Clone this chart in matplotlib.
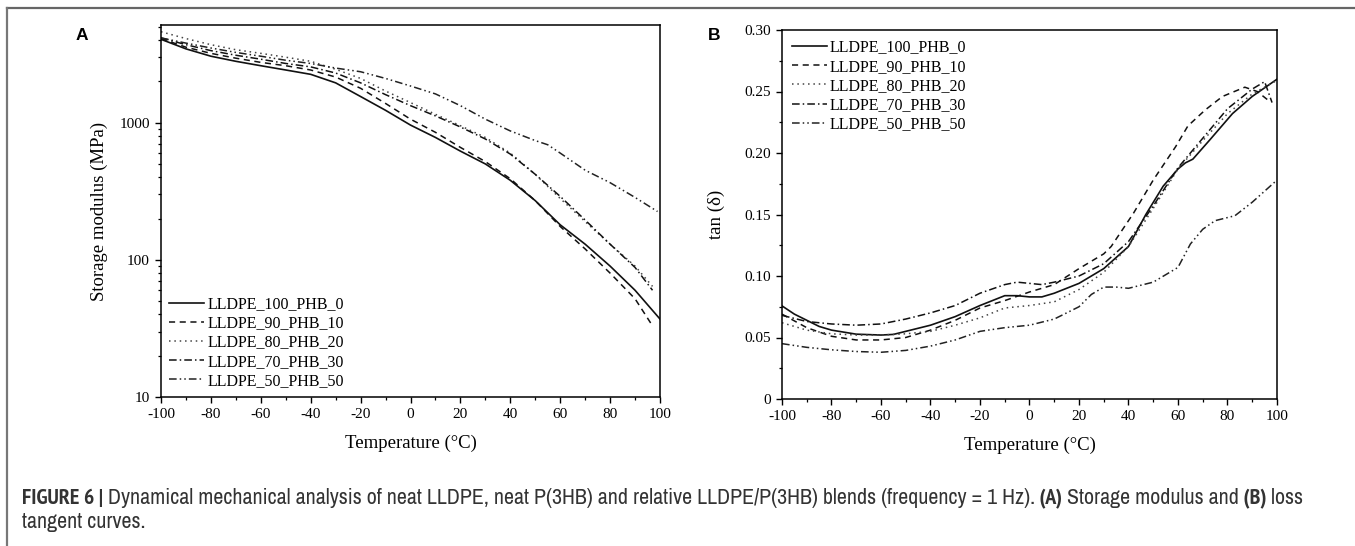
from matplotlib import pyplot as plt
from matplotlib import ticker, font_manager
from matplotlib.font_manager import FontProperties
from matplotlib.lines import Line2D

# ---- data ----
temp_a = [-100, -90, -80, -70, -60, -50, -40, -30, -20, -10, 0, 10, 20, 30, 40, 50, 60, 70, 80, 90, 100]
mod_100_0 = [4050, 3450, 3050, 2800, 2600, 2420, 2250, 1950, 1550, 1230, 960, 780, 620, 500, 380, 270, 180, 130, 90, 60, 37]
temp_a2 = [-100, -90, -80, -70, -60, -50, -40, -30, -20, -10, 0, 10, 20, 30, 40, 50, 60, 70, 80, 90, 97]
mod_90_10 = [4100, 3550, 3200, 2950, 2750, 2600, 2420, 2150, 1780, 1380, 1060, 850, 660, 520, 390, 270, 175, 120, 80, 52, 33]
mod_80_20 = [4600, 4100, 3700, 3400, 3200, 3000, 2800, 2450, 2100, 1700, 1400, 1150, 950, 780, 600, 420, 280, 190, 130, 90, 64]
mod_70_30 = [4150, 3700, 3350, 3100, 2900, 2700, 2550, 2300, 1950, 1600, 1330, 1120, 930, 760, 590, 420, 290, 195, 130, 88, 60]
temp_a3 = [-100, -90, -80, -70, -60, -50, -40, -30, -20, -10, 0, 10, 20, 30, 40, 50, 55, 60, 70, 80, 90, 99]
mod_50_50 = [4150, 3800, 3500, 3250, 3050, 2850, 2700, 2500, 2350, 2100, 1850, 1620, 1330, 1060, 870, 740, 690, 600, 450, 365, 285, 225]

temp_b1 = [-100, -95, -90, -85, -80, -70, -60, -55, -50, -40, -30, -20, -10, -5, 0, 5, 10, 20, 30, 40, 47, 54, 60, 63, 66, 73, 82, 90, 100]
tan_100_0 = [0.0757, 0.069, 0.064, 0.059, 0.056, 0.0527, 0.052, 0.0525, 0.055, 0.060, 0.067, 0.076, 0.084, 0.084, 0.083, 0.083,
             0.086, 0.094, 0.106, 0.124, 0.150, 0.173, 0.187, 0.192, 0.195, 0.211, 0.232, 0.246, 0.260]
temp_b2 = [-100, -90, -80, -70, -60, -50, -40, -30, -20, -10, 0, 10, 20, 30, 33, 42, 50, 59, 64, 71, 78, 87, 92, 97]
tan_90_10 = [0.069, 0.058, 0.051, 0.048, 0.048, 0.050, 0.056, 0.064, 0.074, 0.080, 0.087, 0.093, 0.106, 0.118, 0.124, 0.151,
             0.178, 0.205, 0.222, 0.235, 0.246, 0.2535, 0.250, 0.242]
temp_b3 = [-100, -90, -80, -70, -60, -50, -40, -30, -20, -10, 0, 10, 20, 30, 40, 50, 60, 70, 80, 90, 100]
tan_80_20 = [0.062, 0.056, 0.053, 0.052, 0.052, 0.053, 0.055, 0.060, 0.066, 0.074, 0.076, 0.079, 0.089, 0.103, 0.124, 0.155,
             0.187, 0.210, 0.232, 0.248, 0.259]
temp_b4 = [-100, -90, -80, -70, -60, -50, -40, -30, -20, -10, -5, 0, 5, 10, 20, 30, 40, 50, 60, 70, 80, 90, 95, 98]
tan_70_30 = [0.068, 0.063, 0.061, 0.060, 0.061, 0.065, 0.070, 0.076, 0.086, 0.093, 0.095, 0.094, 0.093, 0.095, 0.100, 0.110,
             0.128, 0.157, 0.188, 0.212, 0.236, 0.252, 0.258, 0.241]
temp_b5 = [-100, -90, -80, -70, -60, -50, -40, -30, -20, -10, 0, 10, 20, 25, 30, 35, 40, 50, 60, 65, 70, 75, 83, 90, 100]
tan_50_50 = [0.045, 0.042, 0.040, 0.0386, 0.038, 0.0395, 0.043, 0.048, 0.055, 0.058, 0.060, 0.065, 0.075, 0.085, 0.091, 0.091,
             0.090, 0.095, 0.107, 0.126, 0.138, 0.145, 0.149, 0.160, 0.178]

labels = ['LLDPE_100_PHB_0', 'LLDPE_90_PHB_10', 'LLDPE_80_PHB_20', 'LLDPE_70_PHB_30', 'LLDPE_50_PHB_50']
tan_ticks = [0, 0.05, 0.10, 0.15, 0.20, 0.25, 0.30]
tan_ticklabels = ['0', '0.05', '0.10', '0.15', '0.20', '0.25', '0.30']
# caption pieces: (text, bold)
caption_line1 = [
    ('FIGURE 6 |', True),
    (' Dynamical mechanical analysis of neat LLDPE, neat P(3HB) and relative LLDPE/P(3HB) blends (frequency = 1 Hz).', False),
    (' (A)', True),
    (' Storage modulus and', False),
    (' (B)', True),
    (' loss', False),
]
caption_line2 = 'tangent curves.'

# ---- styles ----
styles = [
    dict(color='#111111', lw=1.2, ls='-'),
    dict(color='#111111', lw=1.1, ls=(0, (4, 3))),
    dict(color='#444444', lw=1.1, ls=(0, (1, 2.5))),
    dict(color='#111111', lw=1.1, ls=(0, (5, 2, 1, 2))),
    dict(color='#222222', lw=1.1, ls=(0, (5, 2, 1, 2, 1, 2))),
]

plt.rcParams['font.family'] = ['Liberation Serif', 'DejaVu Serif']

W, H = 1355, 546
fig = plt.figure(figsize=(W / 100, H / 100), dpi=100)


def axes_px(left, top, right, bottom):
    return fig.add_axes([left / W, 1 - bottom / H, (right - left) / W, (bottom - top) / H])


def style_axes(ax):
    for s in ax.spines.values():
        s.set_linewidth(1.1)
    ax.tick_params(which='major', direction='out', length=4.5, width=1.0, labelsize=11, top=False, right=False)
    ax.tick_params(which='minor', direction='out', length=2.5, width=0.9, top=False, right=False)
    ax.set_xlim(-100, 100)
    ax.xaxis.set_major_locator(ticker.MultipleLocator(20))
    ax.xaxis.set_minor_locator(ticker.MultipleLocator(10))
    ax.xaxis.set_major_formatter(ticker.FuncFormatter(lambda v, p: f'{v:g}'))
    ax.set_xlabel('Temperature (°C)', fontsize=13.5, labelpad=10)


leg_kw = dict(frameon=False, fontsize=11.5, handlelength=2.2, handletextpad=0.2, labelspacing=0.2)

# ---- panel A ----
ax1 = axes_px(161, 25, 660, 397)
series_a = [(temp_a, mod_100_0), (temp_a2, mod_90_10), (temp_a2, mod_80_20), (temp_a2, mod_70_30), (temp_a3, mod_50_50)]
for (t, v), lab, st in zip(series_a, labels, styles):
    ax1.plot(t, v, label=lab, **st)
ax1.set_yscale('log')
ax1.set_ylim(10, 5150)
style_axes(ax1)
ax1.yaxis.set_major_formatter(ticker.FuncFormatter(lambda v, p: f'{v:g}'))
ax1.yaxis.set_minor_formatter(ticker.NullFormatter())
ax1.set_ylabel('Storage modulus (MPa)', fontsize=13.5, labelpad=8)
ax1.legend(loc='lower left', borderaxespad=0.1, **leg_kw)

# ---- panel B ----
ax2 = axes_px(782, 30, 1277, 399)
series_b = [(temp_b1, tan_100_0), (temp_b2, tan_90_10), (temp_b3, tan_80_20), (temp_b4, tan_70_30), (temp_b5, tan_50_50)]
for (t, v), lab, st in zip(series_b, labels, styles):
    ax2.plot(t, v, label=lab, **st)
ax2.set_ylim(0, 0.30)
style_axes(ax2)
ax2.set_yticks(tan_ticks)
ax2.set_yticklabels(tan_ticklabels)
ax2.yaxis.set_minor_locator(ticker.MultipleLocator(0.025))
ax2.set_ylabel('tan (δ)', fontsize=13.5, labelpad=14)
ax2.legend(loc='upper left', borderaxespad=0.2, **leg_kw)

# panel letters
fig.text(76 / W, 1 - 40 / H, 'A', fontsize=12.5, fontweight='bold', family='Liberation Sans')
fig.text(708 / W, 1 - 40 / H, 'B', fontsize=12.5, fontweight='bold', family='Liberation Sans')

# frame lines of the page
fig.add_artist(Line2D([7 / W, 1], [1 - 8 / H, 1 - 8 / H], color='#666666', lw=1.6, transform=fig.transFigure))
fig.add_artist(Line2D([7 / W, 7 / W], [1 - 8 / H, 0], color='#777777', lw=1.6, transform=fig.transFigure))


# ---- caption: prefer a narrow sans face, then fit the first line to its width ----
STRETCH_RANK = {'condensed': 0, 'semi-condensed': 1, 'extra-condensed': 2, 'ultra-condensed': 3}


def pick_font(bold):
    fonts = font_manager.fontManager.ttflist
    want = 700 if bold else 400

    def ok(f):
        w = f.weight if isinstance(f.weight, int) else (700 if 'bold' in str(f.weight) else 400)
        return abs(w - want) < 150 and f.style == 'normal'

    narrow = [f for f in fonts if ok(f) and 'Mono' not in f.name and 'Serif' not in f.name
              and ('Narrow' in f.name or 'Condensed' in f.name or 'condensed' in str(f.stretch))]
    narrow.sort(key=lambda f: (0 if 'Narrow' in f.name else 1, STRETCH_RANK.get(str(f.stretch), 4),
                               0 if 'Noto' in f.name else 1))
    if narrow:
        return FontProperties(fname=narrow[0].fname)
    return FontProperties(family='Liberation Sans', weight='bold' if bold else 'normal')


fp_reg, fp_bold = pick_font(False), pick_font(True)
cap_col = '#333333'
renderer = fig.canvas.get_renderer()


def draw_line(pieces, size, x0, y0):
    x = x0
    arts = []
    for txt, bold in pieces:
        fp = (fp_bold if bold else fp_reg).copy()
        fp.set_size(size)
        t = fig.text(x / W, 1 - y0 / H, txt, fontproperties=fp, color=cap_col)
        x = t.get_window_extent(renderer).x1
        arts.append(t)
    return arts, x


arts, x_end = draw_line(caption_line1, 10, 22, 504)
for a in arts:
    a.remove()
size = 10 * (1305 - 22) / (x_end - 22)
draw_line(caption_line1, size, 22, 504)
fp2 = fp_reg.copy()
fp2.set_size(size)
fig.text(22 / W, 1 - 528 / H, caption_line2, fontproperties=fp2, color=cap_col)

fig.savefig('out.png', dpi=100)
